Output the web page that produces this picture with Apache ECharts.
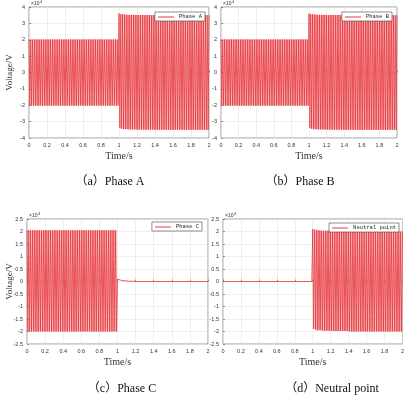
<!DOCTYPE html>
<html>
<head>
<meta charset="utf-8">
<script src="https://cdn.jsdelivr.net/npm/echarts@6/dist/echarts.min.js"></script>
<style>
  html, body { margin: 0; padding: 0; background: #fff; }
  #chart { width: 407px; height: 403px; }
</style>
</head>
<body>
<div id="chart"></div>
<script>
window.addEventListener('load', function () {
    // values in units of 10^4 V
    var freq = 50;          // Hz, grid frequency
    var tEnd = 2;           // s
    var xTicks = [0, 0.2, 0.4, 0.6, 0.8, 1, 1.2, 1.4, 1.6, 1.8, 2];

    // envelope breakpoints: from time t on, peaks are (upper, lower)
    var envTime   = [0,     1,     1.02,  1.05,  1.1,   1.2,   1.4];
    var aUpper    = [2.02,  3.6,   3.56,  3.54,  3.52,  3.51,  3.5];
    var aLower    = [-2.02, -3.4,  -3.44, -3.46, -3.48, -3.49, -3.5];
    var bUpper    = [2.02,  3.6,   3.56,  3.54,  3.52,  3.51,  3.5];
    var bLower    = [-2.02, -3.4,  -3.44, -3.46, -3.48, -3.49, -3.5];
    var cUpper    = [2.05,  0.1,   0.06,  0.03,  0.01,  0,     0];
    var cLower    = [-2.0,  0.1,   0.06,  0.03,  0.01,  0,     0];
    var nUpper    = [0,     2.1,   2.07,  2.05,  2.03,  2.02,  2.0];
    var nLower    = [0,     -1.9,  -1.93, -1.95, -1.97, -1.98, -2.0];

    var names = ['Phase A', 'Phase B', 'Phase C', 'Neutral point'];
    var captions = ['（a）Phase A', '（b）Phase B', '（c）Phase C', '（d）Neutral point'];

    // alternate between the read peak values at every half cycle
    function peaks(upper, lower) {
        var out = [];
        var n = Math.round(tEnd * freq * 2);
        for (var k = 0; k <= n; k++) {
            var t = k / (freq * 2);
            var j = 0;
            while (j + 1 < envTime.length && envTime[j + 1] <= t + 1e-9) j++;
            out.push([t, k % 2 === 0 ? upper[j] : lower[j]]);
        }
        return out;
    }

    var seriesData = [
        peaks(aUpper, aLower),
        peaks(bUpper, bLower),
        peaks(cUpper, cLower),
        peaks(nUpper, nLower)
    ];

    var grids = [
        { left: 29, right: 198, top: 7, height: 131 },
        { left: 221, right: 10, top: 7, height: 131 },
        { left: 27, right: 199, top: 219, height: 125 },
        { left: 223, right: 4, top: 219, height: 125 }
    ];
    var yRange = [[-4, 4, 1], [-4, 4, 1], [-2.5, 2.5, 0.5], [-2.5, 2.5, 0.5]];
    var legendPos = [
        { right: 202, top: 12 },
        { right: 15, top: 12 },
        { right: 205, top: 222 },
        { right: 8, top: 223 }
    ];
    var captionPos = [[110, 182], [300, 182], [122, 389], [332, 389]];

    var serif = '"Liberation Serif", "Noto Sans CJK SC", serif';
    var red = '#e8383e';

    var option = {
        animation: false,
        backgroundColor: '#fff',
        grid: grids.map(function (g) {
            return Object.assign({ show: true, borderColor: '#555', borderWidth: 0.6, backgroundColor: '#fff' }, g);
        }),
        xAxis: grids.map(function (g, i) {
            return {
                type: 'value', gridIndex: i, min: 0, max: 2, interval: 0.2,
                name: 'Time/s', nameLocation: 'middle', nameGap: 13,
                nameTextStyle: { fontFamily: serif, fontSize: 10, color: '#333' },
                axisLine: { show: false },
                axisTick: { inside: true, length: 2, lineStyle: { color: '#555', width: 0.6 } },
                axisLabel: { fontSize: 5.5, color: '#333', margin: 4,
                    formatter: function (v) { return xTicks.indexOf(+v.toFixed(1)) >= 0 ? String(+v.toFixed(1)) : ''; } },
                splitLine: { show: true, lineStyle: { color: '#e4e4e4', width: 0.6 } }
            };
        }),
        yAxis: grids.map(function (g, i) {
            return {
                type: 'value', gridIndex: i, min: yRange[i][0], max: yRange[i][1], interval: yRange[i][2],
                axisLine: { show: false },
                axisTick: { inside: true, length: 2, lineStyle: { color: '#555', width: 0.6 } },
                axisLabel: { fontSize: 5.5, color: '#333', margin: 4 },
                splitLine: { show: true, lineStyle: { color: '#e4e4e4', width: 0.6 } }
            };
        }),
        legend: legendPos.map(function (p, i) {
            return Object.assign({
                data: [names[i]], orient: 'horizontal', icon: 'rect',
                backgroundColor: '#fff', borderColor: '#444', borderWidth: 0.6, borderRadius: 0,
                padding: [2, 3, 1, 3], itemWidth: 16, itemHeight: 1, itemGap: 2,
                textStyle: { fontSize: 5.5, color: '#222', fontFamily: '"Liberation Mono", monospace' }
            }, p);
        }),
        graphic: captionPos.map(function (p, i) {
            return {
                type: 'text', x: p[0], y: p[1],
                style: { text: captions[i], fill: '#111', font: '12px ' + serif, textAlign: 'center', textVerticalAlign: 'middle' }
            };
        }).concat(grids.map(function (g) {
            return {
                type: 'text', x: g.left + 2, y: g.top - 1,
                style: { text: '×10', fill: '#333', font: '5px sans-serif', textVerticalAlign: 'bottom' }
            };
        })).concat(grids.map(function (g) {
            return {
                type: 'text', x: g.left + 11, y: g.top - 3,
                style: { text: '4', fill: '#333', font: '4px sans-serif', textVerticalAlign: 'bottom' }
            };
        })).concat([0, 2].map(function (i) {
            var g = grids[i];
            return {
                type: 'text', x: 10, y: g.top + g.height / 2, rotation: Math.PI / 2,
                style: { text: 'Voltage/V', fill: '#333', font: '9px ' + serif, textAlign: 'center', textVerticalAlign: 'middle' }
            };
        })),
        series: seriesData.map(function (d, i) {
            return {
                name: names[i], type: 'line', xAxisIndex: i, yAxisIndex: i,
                data: d, symbol: 'none', color: red,
                lineStyle: { width: 1, color: red, opacity: 0.85 }
            };
        })
    };

    var myChart = echarts.init(document.getElementById('chart'));
    myChart.setOption(option);
});
</script>
</body>
</html>
